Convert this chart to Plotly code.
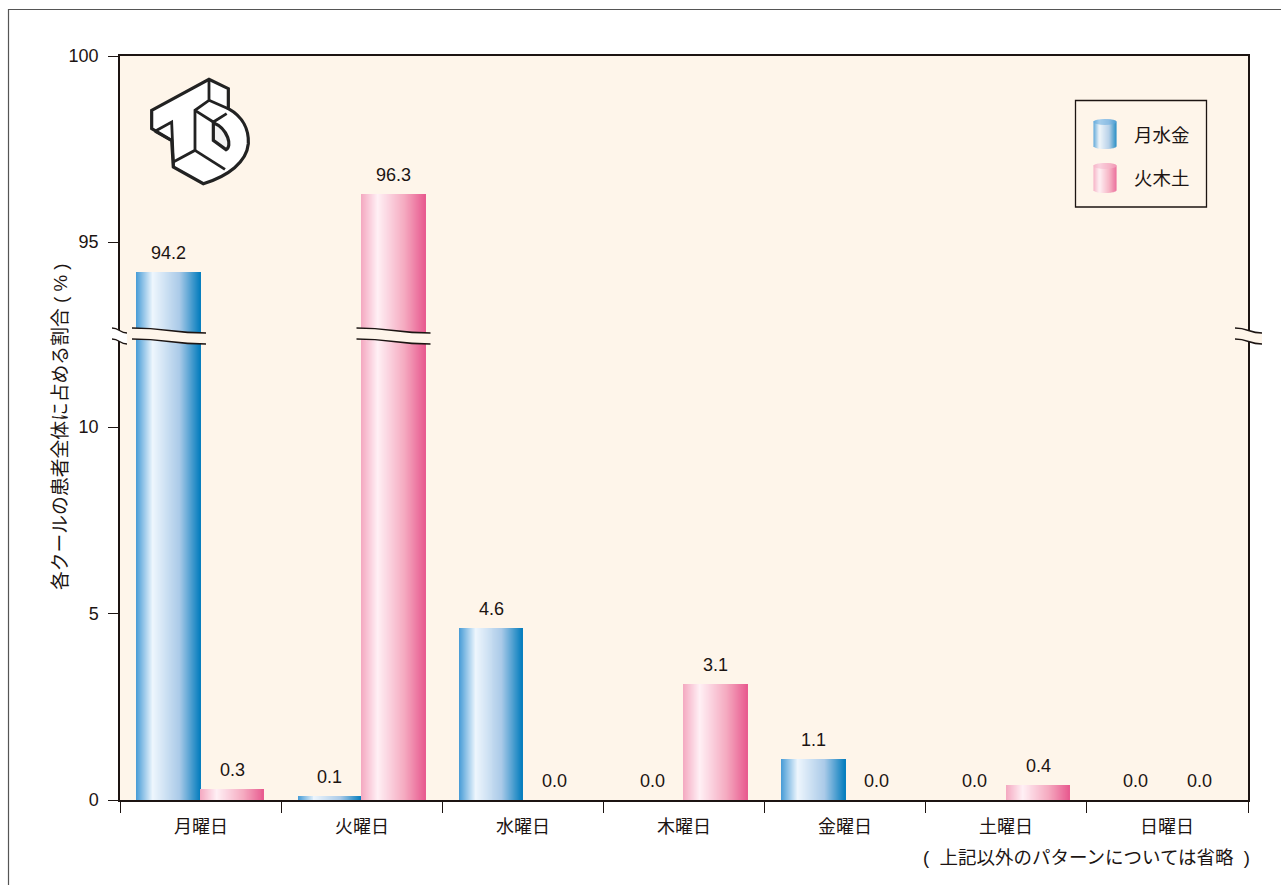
import plotly.graph_objects as go

W, H = 1281, 885
categories = ["月曜日", "火曜日", "水曜日", "木曜日", "金曜日", "土曜日", "日曜日"]
series_names = ["月水金", "火木土"]
mwf_values = [94.2, 0.1, 4.6, 0.0, 1.1, 0.0, 0.0]
tts_values = [0.3, 96.3, 0.0, 3.1, 0.0, 0.4, 0.0]
y_low_ticks = [0, 5, 10]
y_high_ticks = [95, 100]
y_title = "各クールの患者全体に占める割合\u00a0(\u00a0%\u00a0)"
footnote = "(\u00a0\u00a0上記以外のパターンについては省略\u00a0\u00a0)"

FONT = "Liberation Sans, Arial, Noto Sans CJK JP, sans-serif"
INK = "#1c1412"
BG = "#FEF5EA"
BLUE_STOPS = [(0, (70, 155, 214)), (0.26, (238, 246, 253)), (0.68, (170, 202, 232)), (1, (5, 125, 190))]
PINK_STOPS = [(0, (244, 168, 192)), (0.26, (255, 240, 245)), (0.68, (245, 170, 192)), (1, (232, 90, 143))]

PX0, PX1, PY0, PY1 = 120, 1248, 56, 800
BREAK_PX = 336
UNIT = (800 - 427) / 10
CAT_PX = (PX1 - PX0) / 7
BAR_PX = 63.5
N = 64


def px(x):
    return x / W


def py(y):
    return 1 - y / H


def grad(stops, t):
    for (a, ca), (b, cb) in zip(stops, stops[1:]):
        if t <= b:
            f = (t - a) / (b - a)
            return "rgb(%d,%d,%d)" % tuple(round(p + (q - p) * f) for p, q in zip(ca, cb))
    return "rgb(%d,%d,%d)" % stops[-1][1]


fig = go.Figure()
bw = BAR_PX / CAT_PX
for values, stops, side, name in ((mwf_values, BLUE_STOPS, -1, series_names[0]), (tts_values, PINK_STOPS, 1, series_names[1])):
    xs, ys, cols = [], [], []
    for i, v in enumerate(values):
        if v <= 0:
            continue
        for k in range(N):
            t = (k + 0.5) / N
            xs.append(i + 0.5 + (side * 0.5 - 0.5) * bw + t * bw)
            ys.append(v)
            cols.append(grad(stops, t))
    for ya, xa in (("y", "x"), ("y2", "x2")):
        fig.add_trace(go.Bar(x=xs, y=ys, width=bw / N * 1.2, name=name, xaxis=xa, yaxis=ya,
                             marker=dict(color=cols, line=dict(width=0)), showlegend=False, hoverinfo="skip"))

annotations = []
for values, side in ((mwf_values, -1), (tts_values, 1)):
    for i, v in enumerate(values):
        high = v > 12
        annotations.append(dict(x=i + 0.5 + side * bw / 2, y=v, xref="x", yref="y2" if high else "y",
                                text="%.1f" % v, showarrow=False, yshift=19, yanchor="middle", xanchor="center",
                                font=dict(size=18, color=INK, family=FONT)))
for i, c in enumerate(categories):
    annotations.append(dict(x=i + 0.5, y=py(827), xref="x", yref="paper", text=c, showarrow=False,
                            yanchor="middle", font=dict(size=18, color=INK, family=FONT)))
annotations += [
    dict(x=px(1252), y=py(857), xref="paper", yref="paper", text=footnote, showarrow=False, xanchor="right",
         yanchor="middle", font=dict(size=18.5, color=INK, family=FONT)),
    dict(x=px(60), y=py(427), xref="paper", yref="paper", text=y_title, showarrow=False, textangle=-90,
         xanchor="center", yanchor="middle", font=dict(size=18.8, color=INK, family=FONT)),
    dict(x=px(1132), y=py(135), xref="paper", yref="paper", text=series_names[0], showarrow=False, xanchor="left",
         yanchor="middle", font=dict(size=18.5, color=INK, family=FONT)),
    dict(x=px(1132), y=py(178), xref="paper", yref="paper", text=series_names[1], showarrow=False, xanchor="left",
         yanchor="middle", font=dict(size=18.5, color=INK, family=FONT)),
]


def XY(x, y):
    return "%.5f %.5f" % (px(x), py(y))


def P(points, close=False):
    s = "M " + " L ".join(XY(x, y) for x, y in points)
    return s + (" Z" if close else "")


def wave(x0, x1, y0, y1):
    xm = (x0 + x1) / 2
    return "M %s C %s %s %s" % (XY(x0, y0), XY(xm, y0), XY(xm, y1), XY(x1, y1))


def band(x0, x1, y0=328, y1=333, gap=11, fill=BG):
    xm = (x0 + x1) / 2
    path = "M %s C %s %s %s L %s C %s %s %s Z" % (
        XY(x0, y0), XY(xm, y0), XY(xm, y1), XY(x1, y1),
        XY(x1, y1 + gap), XY(xm, y1 + gap), XY(xm, y0 + gap), XY(x0, y0 + gap))
    out = [dict(type="path", xref="paper", yref="paper", path=path, fillcolor=fill, line=dict(width=0), layer="above")]
    for d in (0, gap):
        out.append(dict(type="path", xref="paper", yref="paper", path=wave(x0, x1, y0 + d, y1 + d),
                        line=dict(color=INK, width=1.4), layer="above"))
    return out


shapes = [dict(type="path", xref="paper", yref="paper", path=P([(8.5, 885), (8.5, 9.5), (1281, 9.5)]),
               line=dict(color="#555555", width=1.2), layer="below")]

# axis breaks
for cx in (169, 393.5):
    shapes += band(cx - 37, cx + 37)
shapes += band(1235, 1262)
shapes += band(112, 127, 328, 333, fill="white")

# legend
shapes.append(dict(type="rect", xref="paper", yref="paper", x0=px(1075.5), x1=px(1206.5), y0=py(207), y1=py(100.5),
                   fillcolor=BG, line=dict(color=INK, width=1.3), layer="above"))
for stops, y0, y1 in ((BLUE_STOPS, 119, 149), (PINK_STOPS, 163, 193)):
    x0, x1, e = 1093.5, 1116.5, 3.0
    n = 23
    for k in range(n):
        a = x0 + k * (x1 - x0) / n
        b = x0 + (k + 1.2) * (x1 - x0) / n
        u = ((a + b) / 2 - (x0 + x1) / 2) / ((x1 - x0) / 2)
        dy = e * (1 - (1 - min(u * u, 1)) ** 0.5)
        shapes.append(dict(type="rect", xref="paper", yref="paper", x0=px(a), x1=px(min(b, x1)), y0=py(y1 - dy),
                           y1=py(y0 + dy), fillcolor=grad(stops, (k + 0.5) / n), line=dict(width=0), layer="above"))
    shapes.append(dict(type="circle", xref="paper", yref="paper", x0=px(x0), x1=px(x1), y0=py(y0 + 2 * e), y1=py(y0),
                       fillcolor=grad(stops, 0.05), opacity=0.55, line=dict(width=0), layer="above"))


# TD logo
def L(zx, zy):
    return (145 + zx / 3, 72 + zy / 3)


def LXY(p):
    return XY(*L(*p))


logo_outer = "M " + LXY((20, 115))
for p in [(192, 22), (250, 50), (250, 110)]:
    logo_outer += " L " + LXY(p)
c = [(295, 135), (312, 175), (310, 215), (305, 270), (250, 312), (175, 335)]
for j in range(0, 6, 3):
    logo_outer += " C " + " ".join(LXY(q) for q in c[j:j + 3])
for p in [(85, 285), (80, 205), (20, 170)]:
    logo_outer += " L " + LXY(p)
logo_outer += " Z"
LOGO = "#222222"
shapes.append(dict(type="path", xref="paper", yref="paper", path=logo_outer, fillcolor="white",
                   line=dict(color=LOGO, width=3.2), layer="above"))
for pts in ([(30, 178), (80, 150), (85, 270), (150, 235), (150, 115), (192, 85), (192, 22)],
            [(192, 85), (250, 110)], [(150, 115), (205, 150), (245, 125)],
            [(85, 270), (85, 285)], [(150, 235), (240, 292)], [(30, 178), (78, 205)]):
    shapes.append(dict(type="path", xref="paper", yref="paper", path=P([L(*q) for q in pts]),
                       line=dict(color=LOGO, width=2.8), layer="above"))
counter = "M " + LXY((205, 152)) + " L " + LXY((205, 205)) + " L " + LXY((243, 233))
counter += " C " + " ".join(LXY(q) for q in [(262, 225), (250, 170), (205, 152)]) + " Z"
shapes.append(dict(type="path", xref="paper", yref="paper", path=counter, fillcolor="#f3f3f3",
                   line=dict(color=LOGO, width=3.2), layer="above"))

low_top = (800 - BREAK_PX) / UNIT
high_bottom = 100 - (BREAK_PX - 56) / ((242 - 56) / 5)
yaxis_common = dict(ticks="outside", ticklen=10, tickwidth=1.2, tickcolor=INK, showline=True, linecolor=INK, linewidth=1.5,
                    mirror=True, showgrid=False, zeroline=False, automargin=False, ticklabelstandoff=6,
                    tickfont=dict(size=18, color=INK, family=FONT))
xaxis_common = dict(range=[0, 7], domain=[px(PX0), px(PX1)], showgrid=False, zeroline=False, showline=True,
                    linecolor=INK, linewidth=1.5, automargin=False)

fig.update_layout(
    width=W, height=H, margin=dict(l=0, r=0, t=0, b=0), autosize=False,
    paper_bgcolor="white", plot_bgcolor=BG, barmode="overlay", bargap=0, showlegend=False,
    font=dict(family=FONT, color=INK),
    annotations=annotations, shapes=shapes,
    xaxis=dict(xaxis_common, anchor="y", tickmode="array", tickvals=list(range(8)), ticktext=[""] * 8,
               ticks="outside", ticklen=11, tickwidth=1.2, tickcolor=INK, side="bottom"),
    xaxis2=dict(xaxis_common, anchor="y2", side="top", showticklabels=False, ticks=""),
    yaxis=dict(yaxis_common, domain=[py(PY1), py(BREAK_PX)], range=[0, low_top], tickmode="array", tickvals=y_low_ticks, anchor="x"),
    yaxis2=dict(yaxis_common, domain=[py(BREAK_PX), py(PY0)], range=[high_bottom, 100], tickmode="array", tickvals=y_high_ticks, anchor="x2"),
)
fig.write_html("out.html", config=dict(displayModeBar=False),
               post_script="document.body.style.margin='0';document.body.style.overflow='hidden';")
